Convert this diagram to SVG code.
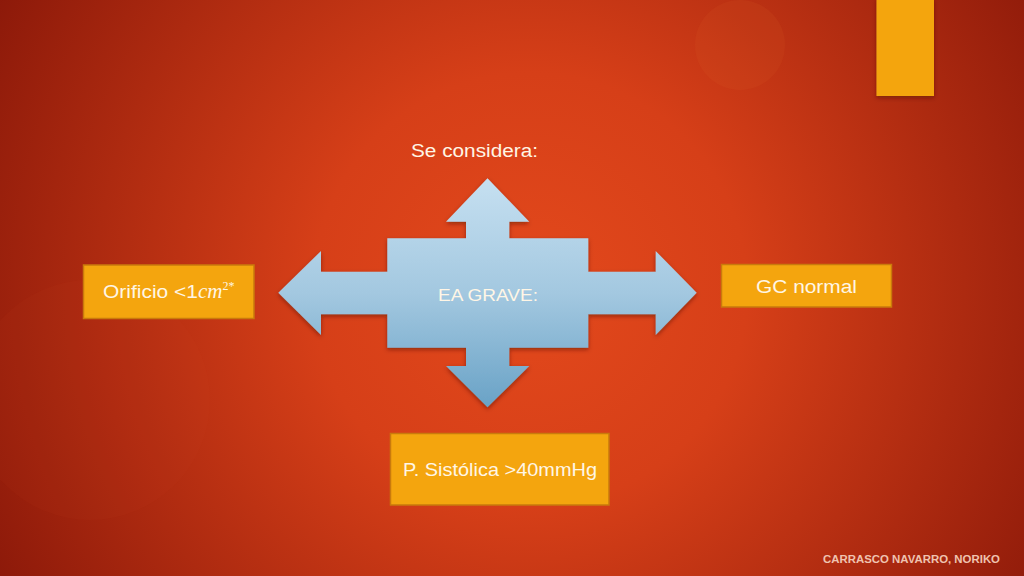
<svg xmlns="http://www.w3.org/2000/svg" width="1024" height="576" viewBox="0 0 1024 576">
<defs>
<radialGradient id="bg" cx="530" cy="290" r="620" gradientUnits="userSpaceOnUse">
<stop offset="0" stop-color="#e3491c"/>
<stop offset="0.35" stop-color="#d63f18"/>
<stop offset="0.7" stop-color="#ad2a10"/>
<stop offset="1" stop-color="#8a1809"/>
</radialGradient>
<linearGradient id="blue" x1="0" y1="178" x2="0" y2="408" gradientUnits="userSpaceOnUse">
<stop offset="0" stop-color="#c6e0f1"/>
<stop offset="0.5" stop-color="#a3c8e0"/>
<stop offset="1" stop-color="#69a2c6"/>
</linearGradient>
<filter id="sh" x="-10%" y="-10%" width="120%" height="130%">
<feDropShadow dx="0" dy="2" stdDeviation="2" flood-color="#4a0a00" flood-opacity="0.5"/>
</filter>
<style>
.box{fill:#f4a50e;stroke:#c97a0c;stroke-width:1.5}
.t{font-family:"Liberation Sans","DejaVu Sans",sans-serif;fill:#fff6e6}
</style>
</defs>
<rect width="1024" height="576" fill="url(#bg)"/>
<circle cx="740" cy="45" r="45" fill="#e0602a" opacity="0.12"/>
<circle cx="90" cy="400" r="120" fill="#d65020" opacity="0.05"/>
<g id="deco">
<rect x="876.5" y="-2" width="57.5" height="98" fill="#f4a50e" filter="url(#sh)"/>
</g>
<g id="connectors"></g>
<g id="center">
<path filter="url(#sh)" fill="url(#blue)" d="M278.3,292.7 L321,251 L321,271.7 L387.3,271.7 L387.3,238.3 L466,238.3 L466,221.7 L446,221.7 L487.5,178.3 L529.3,221.7 L509.3,221.7 L509.3,238.3 L588.3,238.3 L588.3,271.7 L655.7,271.7 L655.7,251 L696.7,292.7 L655.7,335 L655.7,314.3 L588.3,314.3 L588.3,347.7 L509.3,347.7 L509.3,366 L529.3,366 L487.5,407.3 L446,366 L466,366 L466,347.7 L387.3,347.7 L387.3,314.3 L321,314.3 L321,335 Z"/>
<text class="t" x="438" y="301" font-size="17" textLength="100" lengthAdjust="spacingAndGlyphs">EA GRAVE:</text>
</g>
<g id="title">
<text class="t" x="411" y="157" font-size="18" textLength="127" lengthAdjust="spacingAndGlyphs">Se considera:</text>
</g>
<g id="orificio">
<rect class="box" x="83.5" y="265" width="170.5" height="53.5"/>
<text class="t" x="103" y="298" font-size="18"><tspan textLength="95" lengthAdjust="spacingAndGlyphs">Orificio &lt;1</tspan><tspan font-family="'Liberation Serif',serif" font-style="italic" font-size="21">cm</tspan><tspan font-family="'Liberation Serif',serif" font-size="12" dy="-8">2*</tspan></text>
</g>
<g id="gc">
<rect class="box" x="721.5" y="264.5" width="170" height="42.5"/>
<text class="t" x="756" y="293" font-size="18" textLength="101" lengthAdjust="spacingAndGlyphs">GC normal</text>
</g>
<g id="psis">
<rect class="box" x="390.5" y="433.5" width="218.5" height="71.5"/>
<text class="t" x="403" y="476" font-size="19" textLength="194" lengthAdjust="spacingAndGlyphs">P. Sistólica &gt;40mmHg</text>
</g>
<g id="footer">
<text x="823" y="563" font-family="'Liberation Sans',sans-serif" font-weight="bold" font-size="11" fill="#efc3b0" textLength="177" lengthAdjust="spacingAndGlyphs">CARRASCO NAVARRO, NORIKO</text>
</g>
</svg>
